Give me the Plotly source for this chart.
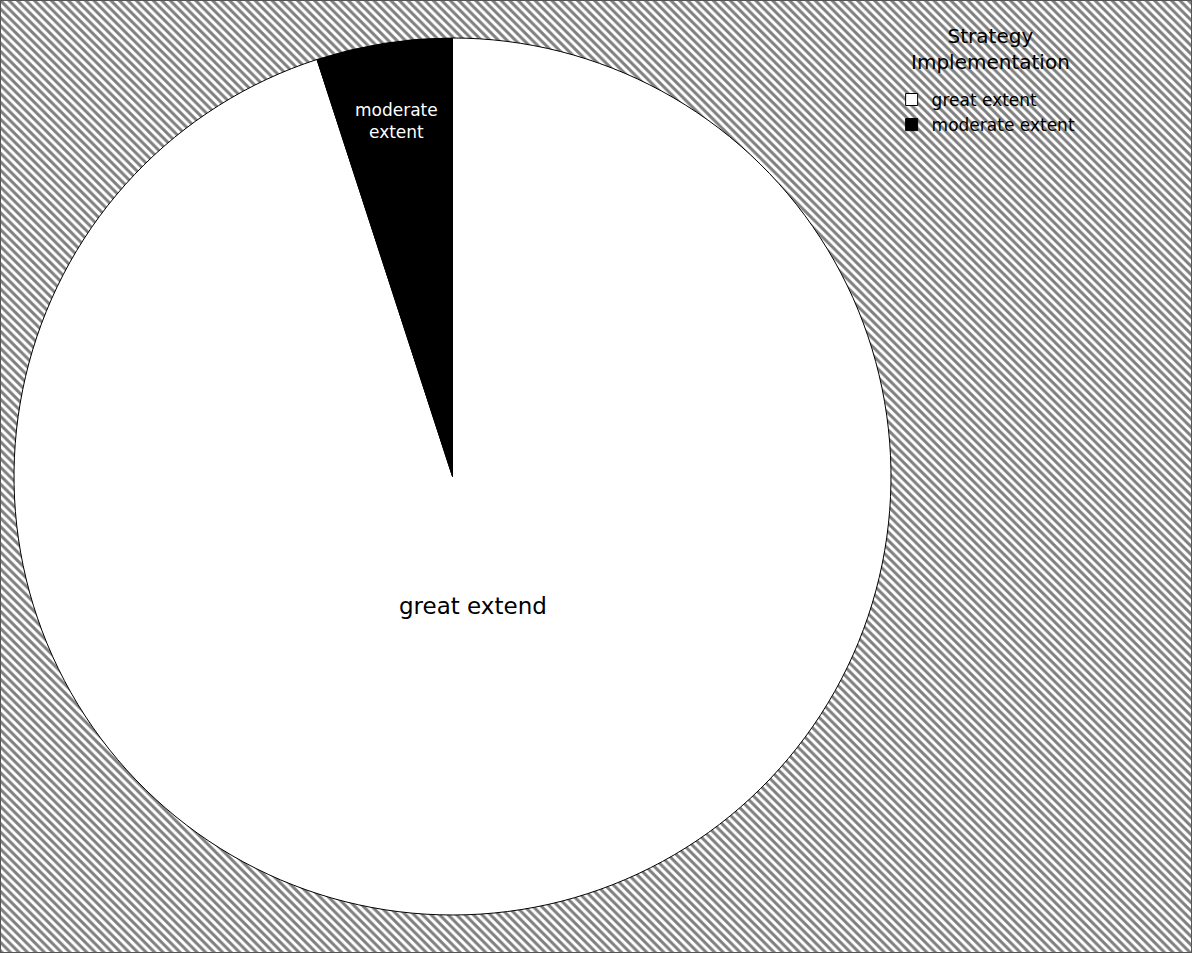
import math
import plotly.graph_objects as go

# Survey result: extent of strategy implementation
categories = ["great extent", "moderate extent"]
slice_text = ["great extend", "moderate<br>extent"]
shares = [95, 5]
slice_colors = ["white", "black"]
text_colors = ["black", "white"]
text_sizes = [23, 17]
label_radius = [0.30, 0.82]  # label distance from centre, as a fraction of the radius

W, H = 1192, 953
pie_x = [14 / W, 891 / W]
pie_y = [1 - 916 / H, 1 - 37 / H]

fig = go.Figure()

# hatched backdrop covering the whole canvas
fig.add_trace(go.Scatter(
    x=[0, 1, 1, 0, 0], y=[0, 0, 1, 1, 0],
    fill="toself", mode="none", showlegend=False, hoverinfo="skip",
    fillpattern=dict(shape="\\", size=6, solidity=0.5,
                     fgcolor="black", bgcolor="white"),
))

fig.add_trace(go.Pie(
    labels=categories,
    values=shares,
    textinfo="none",
    marker=dict(colors=slice_colors, line=dict(color="black", width=1)),
    sort=False,
    direction="clockwise",
    rotation=0,
    domain=dict(x=pie_x, y=pie_y),
    hoverinfo="label+percent",
))

# slice labels placed along each slice's mid-angle (clockwise from 12 o'clock)
cx = (pie_x[0] + pie_x[1]) / 2 * W
cy = (1 - (pie_y[0] + pie_y[1]) / 2) * H
radius = min((pie_x[1] - pie_x[0]) * W, (pie_y[1] - pie_y[0]) * H) / 2
total = sum(shares)
start = 0.0
annotations = []
for txt, v, col, sz, rf in zip(slice_text, shares, text_colors, text_sizes, label_radius):
    mid = (start + v / 2) / total * 2 * math.pi
    start += v
    px = cx + rf * radius * math.sin(mid)
    py = cy - rf * radius * math.cos(mid)
    annotations.append(dict(
        x=px / W, y=1 - py / H, xref="paper", yref="paper",
        text=txt, showarrow=False, align="center",
        xanchor="center", yanchor="middle",
        font=dict(family="DejaVu Sans", size=sz, color=col),
    ))

# legend heading
annotations.append(dict(
    x=990 / W, y=1 - 49 / H, xref="paper", yref="paper",
    text="Strategy<br>Implementation", showarrow=False, align="center",
    xanchor="center", yanchor="middle",
    font=dict(family="DejaVu Sans", size=20, color="black"),
))

fig.update_layout(
    width=W, height=H,
    margin=dict(l=0, r=0, t=0, b=0),
    paper_bgcolor="white", plot_bgcolor="white",
    xaxis=dict(range=[0, 1], visible=False, domain=[0, 1], fixedrange=True),
    yaxis=dict(range=[0, 1], visible=False, domain=[0, 1], fixedrange=True),
    legend=dict(
        font=dict(family="DejaVu Sans", size=17, color="black"),
        bgcolor="rgba(0,0,0,0)",
        x=0.748, y=0.914, xanchor="left", yanchor="top",
        tracegroupgap=0,
    ),
    annotations=annotations,
    shapes=[dict(type="rect", xref="paper", yref="paper", x0=0, y0=0, x1=1, y1=1,
                 line=dict(color="#555555", width=2))],
    showlegend=True,
)

fig.write_html("out.html")
